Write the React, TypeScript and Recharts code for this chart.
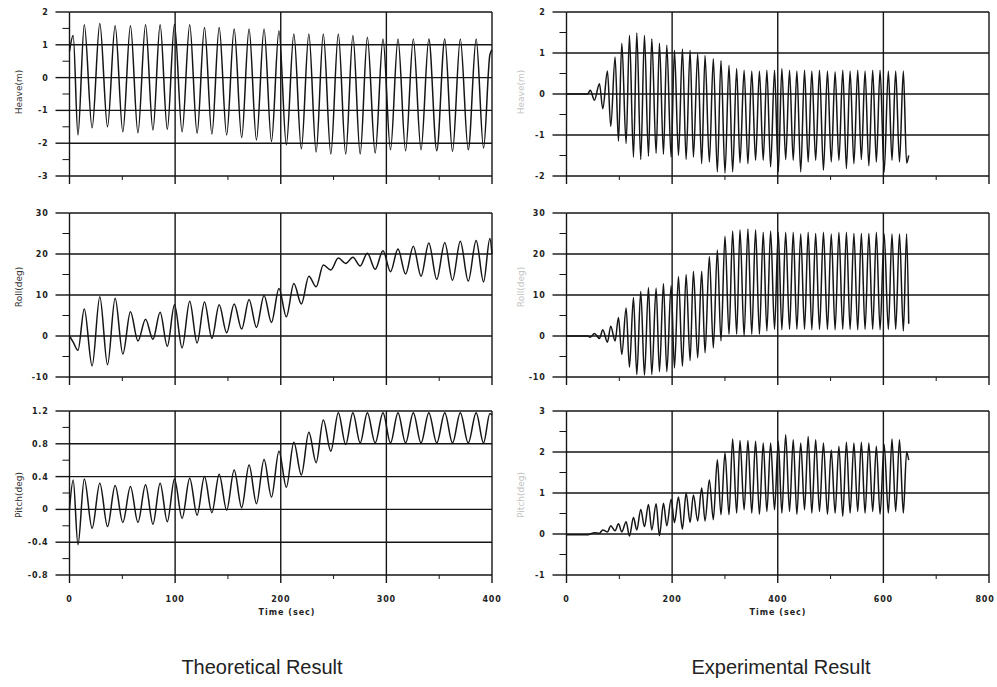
import React from 'react';
import { LineChart, Line, XAxis, YAxis, ReferenceLine } from 'recharts';

// theoretical result: times (s) of the turning points
const thTime = [0, 3.5, 8, 14, 21.4, 28.7, 36, 43.2, 50.5, 57.7, 64.8, 72, 79, 85.8, 92.6, 99.4, 106.6, 113.8, 120.8, 127.8, 134.8, 141.7, 148.8, 155.9, 163, 170, 177, 184.2, 191.2, 198.3, 205.3, 212.4, 219.5, 226.6, 233.5, 240.3, 247.4, 254.5, 261.5, 268.3, 275.2, 282, 289.4, 296.8, 303.9, 311, 318.2, 325.5, 332.8, 340.2, 347.7, 355.3, 362.6, 370, 377.5, 385, 392, 398, 400];
const thHeave = [0.8, 1.28, -1.75,
  1.61, -1.53, 1.65, -1.5, 1.58, -1.65, 1.58, -1.68, 1.61, -1.6, 1.61, -1.58, 1.63, -1.65, 1.61, -1.7, 1.53, -1.72, 1.53, -1.75, 1.48, -1.83, 1.48, -1.9, 1.48, -1.95, 1.43, -2.05, 1.33, -2.17, 1.33, -2.27, 1.33, -2.33, 1.33, -2.33, 1.28, -2.33, 1.23, -2.3, 1.18, -2.2, 1.18, -2.23, 1.18, -2.2, 1.18, -2.23, 1.18, -2.25, 1.18, -2.2, 1.18, -2.15,
  0.7, 0.85];
const thRoll = [0, -1.5, -3.5,
  6.6, -7.3, 9.6, -7.0, 9.2, -4.4, 5.9, -1.2, 4.1, -0.8, 5.8, -2.5, 7.6, -2.9, 8.5, -1.7, 8.3, -0.6, 7.6, 0.8, 7.8, 1.7, 8.9, 2.1, 9.9, 3.3, 11.6, 4.7, 12.8, 7.8, 14.6, 12, 17.3, 16.1, 19, 17.7, 19.2, 17.1, 20.2, 16.3, 20.8, 15.7, 21.2, 15.1, 21.9, 14.6, 22.7, 13.8, 22.8, 13.6, 23.1, 13.4, 23.3, 13.2,
  23.8, 20];
const thPitch = [0, 0.36, -0.43,
  0.37, -0.23, 0.32, -0.21, 0.29, -0.16, 0.28, -0.16, 0.3, -0.18, 0.32, -0.15, 0.37, -0.11, 0.38, -0.07, 0.4, -0.04, 0.43, -0.01, 0.48, 0.02, 0.54, 0.07, 0.61, 0.15, 0.71, 0.27, 0.82, 0.42, 0.94, 0.57, 1.09, 0.71, 1.18, 0.79, 1.18, 0.81, 1.18, 0.81, 1.18, 0.81, 1.18, 0.81, 1.18, 0.81, 1.18, 0.81, 1.18, 0.81, 1.18, 0.81, 1.18, 0.81,
  1.17, 1.15];

const exTime = [0, 40, 45, 52.9, 62.4, 68.7, 77.5, 83.8, 92, 98.4, 104.7, 112.9, 119.2, 126.8, 133.1, 140.6, 147.6, 155.2, 161.5, 169.7, 176, 183.6, 189.9, 198.1, 204.4, 212, 219.5, 226.5, 234, 240.3, 248.4, 256, 262.3, 270.5, 278, 285.6, 292.5, 300.1, 307.7, 314.6, 322.2, 328.5, 336.3, 343.5, 350.8, 358, 365.3, 372.5, 379.4, 386.5, 393.9, 401, 407.8, 415, 422.3, 429.3, 436.2, 443.5, 450.7, 457.6, 464.5, 471.8, 479, 486.5, 494.1, 501.3, 508.6, 515.8, 523.1, 530, 537, 544.2, 551.4, 558.3, 565.3, 572.5, 579.8, 586.7, 593.7, 601.5, 609.4, 616.3, 623.3, 630.5, 637.8, 644, 648];
const exHeave = [0, 0,
  0.09, -0.15, 0.25, -0.36, 0.56, -0.79, 0.9, -1.15, 1.24, -1.21, 1.43, -1.54, 1.49, -1.6, 1.43, -1.52, 1.35, -1.45, 1.24, -1.47, 1.19, -1.54, 1.07, -1.5, 1.1, -1.6, 1.07, -1.54, 0.98, -1.7, 0.94, -1.66, 0.86, -1.9, 0.82, -1.93, 0.7, -1.9, 0.62, -1.68, 0.58, -1.7, 0.56, -1.62, 0.56, -1.62, 0.58, -1.78, 0.58, -1.9, 0.62, -1.6, 0.58, -1.62, 0.56, -1.9, 0.58, -1.66, 0.56, -1.62, 0.58, -1.86, 0.56, -1.66, 0.54, -1.62, 0.58, -1.82, 0.56, -1.7, 0.58, -1.6, 0.56, -1.75, 0.58, -1.66, 0.58, -1.9, 0.56, -1.62, 0.56, -1.66, 0.56, -1.68,
  -1.5];
const exRoll = [0, 0,
  -0.3, 0.6, -0.6, 1.5, -1.5, 2.4, -1.2, 4.5, -4.5, 6.8, -7.6, 9.4, -9.4, 10.9, -9.6, 11.8, -9.4, 11.7, -8.7, 12.8, -8.7, 12.3, -7.8, 14.5, -7.4, 15, -6, 15.8, -5.3, 15.8, -4.1, 19.4, -2.9, 21, -1.2, 24.3, 0.4, 25.6, 0.4, 25.9, 0, 26.1, 0.4, 25.9, 0.4, 25.3, 1.2, 25.6, 1.6, 25.3, 1.5, 25.3, 1.6, 25.3, 1.6, 24.9, 1.6, 25.3, 1.5, 25, 1.6, 25.3, 1.6, 24.9, 1.5, 25.3, 1.6, 25.3, 1.6, 25, 1.5, 25, 1.6, 25, 1.6, 25.3, 1.5, 24.9, 1.6, 24.9, 1.6, 24.9, 1.2, 24.9,
  3];
const exPitch = [-0.02, -0.02,
  0, 0.03, 0.02, 0.1, 0.05, 0.2, 0.08, 0.25, 0.05, 0.3, -0.05, 0.4, 0.1, 0.6, 0.18, 0.72, 0.1, 0.74, -0.04, 0.75, 0.2, 0.85, 0.28, 0.9, 0.12, 1.0, 0.28, 0.95, 0.32, 1.12, 0.32, 1.32, 0.35, 1.81, 0.47, 1.98, 0.47, 2.32, 0.51, 2.28, 0.59, 2.28, 0.51, 2.26, 0.48, 2.22, 0.55, 2.22, 0.59, 2.26, 0.51, 2.42, 0.55, 2.3, 0.48, 2.22, 0.59, 2.38, 0.51, 2.3, 0.55, 2.22, 0.48, 2.05, 0.51, 2.14, 0.43, 2.24, 0.51, 2.22, 0.55, 2.24, 0.51, 2.22, 0.55, 2.14, 0.48, 2.18, 0.51, 2.32, 0.55, 2.3, 0.51, 2.0,
  1.8];

// ticks
const thXMajor = [0, 100, 200, 300, 400];
const thXMinor = [50, 150, 250, 350];
const exXMajor = [0, 200, 400, 600, 800];
const exXMinor = [100, 300, 500, 700];
const heaveThMajor = [-3, -2, -1, 0, 1, 2];
const heaveThMinor = [-2.5, -1.5, -0.5, 0.5, 1.5];
const heaveExMajor = [-2, -1, 0, 1, 2];
const heaveExMinor = [-1.5, -0.5, 0.5, 1.5];
const rollMajor = [-10, 0, 10, 20, 30];
const rollMinor = [-5, 5, 15, 25];
const pitchThMajor = [-0.8, -0.4, 0, 0.4, 0.8, 1.2];
const pitchThMinor = [-0.6, -0.2, 0.2, 0.6, 1];
const pitchExMajor = [-1, 0, 1, 2, 3];
const pitchExMinor = [-0.5, 0.5, 1.5, 2.5];

const INK = '#151515';
const tickFont = { fontSize: 8, fontWeight: 700, fontFamily: 'DejaVu Sans', fill: '#222', letterSpacing: 0.8 };

const yTick = (major: number[]) => (p: any) => {
  const v = p.payload.value;
  const isMajor = major.includes(v);
  return (
    <g>
      <line x1={p.x - (isMajor ? 14 : 7)} x2={p.x} y1={p.y} y2={p.y} stroke={INK} strokeWidth={isMajor ? 1.4 : 1} />
      {isMajor && (
        <text x={p.x - 21} y={p.y + 3} textAnchor="end" {...tickFont}>{v}</text>
      )}
    </g>
  );
};

const xTick = (major: number[], labels: boolean, lastShift: number) => (p: any) => {
  const v = p.payload.value;
  const isMajor = major.includes(v);
  const isLast = v === major[major.length - 1];
  return (
    <g>
      <line x1={p.x} x2={p.x} y1={p.y} y2={p.y + (isMajor ? 8 : 4)} stroke={INK} strokeWidth={isMajor ? 1.4 : 1} />
      {labels && isMajor && (
        <text x={p.x - (isLast ? lastShift : 0)} y={p.y + 27} textAnchor="middle" {...tickFont}>{v}</text>
      )}
    </g>
  );
};

interface PanelProps {
  left: number;
  top: number;
  time: number[];
  values: number[];
  xMajor: number[];
  xMinor: number[];
  yMajor: number[];
  yMinor: number[];
  showX: boolean;
  lastShift?: number;
}

function Panel({ left, top, time, values, xMajor, xMinor, yMajor, yMinor, showX, lastShift = 0 }: PanelProps) {
  const data = time.map((t, i) => ({ t, v: values[i] }));
  const xTicks = [...xMajor, ...xMinor].sort((a, b) => a - b);
  const yTicks = [...yMajor, ...yMinor].sort((a, b) => a - b);
  return (
    <div style={{ position: 'absolute', left, top }}>
      <LineChart width={502} height={224} data={data} margin={{ top: 10, right: 10, bottom: 0, left: 0 }}>
        <XAxis
          dataKey="t"
          type="number"
          domain={[xMajor[0], xMajor[xMajor.length - 1]]}
          ticks={xTicks}
          interval={0}
          tickSize={0}
          tickMargin={0}
          tickLine={false}
          axisLine={false}
          height={50}
          tick={xTick(xMajor, showX, lastShift)}
        />
        <YAxis
          type="number"
          domain={[yMajor[0], yMajor[yMajor.length - 1]]}
          ticks={yTicks}
          interval={0}
          tickSize={0}
          tickMargin={0}
          tickLine={false}
          axisLine={false}
          width={69.5}
          tick={yTick(yMajor)}
        />
        {yMajor.map((v) => (
          <ReferenceLine key={'h' + v} y={v} stroke={INK} strokeWidth={1.4} />
        ))}
        {xMajor.map((v) => (
          <ReferenceLine key={'v' + v} x={v} stroke={INK} strokeWidth={1.4} />
        ))}
        <Line type="monotone" dataKey="v" stroke={INK} strokeWidth={1.5} dot={false} isAnimationActive={false} />
      </LineChart>
    </div>
  );
}

const yTitle = (text: string, x: number, y: number, color: string) => (
  <div
    style={{
      position: 'absolute',
      left: x,
      top: y,
      transform: 'translate(-50%, -50%) rotate(-90deg)',
      fontFamily: 'DejaVu Sans',
      fontSize: 9,
      color,
      whiteSpace: 'nowrap',
    }}
  >
    {text}
  </div>
);

const timeLabel = (x: number) => (
  <div
    style={{
      position: 'absolute',
      left: x,
      top: 612,
      transform: 'translate(-50%, -50%)',
      fontFamily: 'DejaVu Sans',
      fontSize: 8,
      fontWeight: 700,
      letterSpacing: 1,
      color: '#222',
      whiteSpace: 'nowrap',
    }}
  >
    Time (sec)
  </div>
);

const title = (text: string, x: number) => (
  <div
    style={{
      position: 'absolute',
      left: x,
      top: 667,
      transform: 'translate(-50%, -50%)',
      fontFamily: 'Liberation Sans',
      fontSize: 20,
      color: '#222',
      whiteSpace: 'nowrap',
    }}
  >
    {text}
  </div>
);

export default function App() {
  return (
    <div style={{ position: 'absolute', left: 0, top: 0, width: 997, height: 687, overflow: 'hidden', background: '#fff' }}>
      <Panel left={0} top={2} time={thTime} values={thHeave} xMajor={thXMajor} xMinor={thXMinor} yMajor={heaveThMajor} yMinor={heaveThMinor} showX={false} />
      <Panel left={0} top={202.5} time={thTime} values={thRoll} xMajor={thXMajor} xMinor={thXMinor} yMajor={rollMajor} yMinor={rollMinor} showX={false} />
      <Panel left={0} top={400.5} time={thTime} values={thPitch} xMajor={thXMajor} xMinor={thXMinor} yMajor={pitchThMajor} yMinor={pitchThMinor} showX={true} />

      <Panel left={497} top={2} time={exTime} values={exHeave} xMajor={exXMajor} xMinor={exXMinor} yMajor={heaveExMajor} yMinor={heaveExMinor} showX={false} />
      <Panel left={497} top={202.5} time={exTime} values={exRoll} xMajor={exXMajor} xMinor={exXMinor} yMajor={rollMajor} yMinor={rollMinor} showX={false} />
      <Panel left={497} top={400.5} time={exTime} values={exPitch} xMajor={exXMajor} xMinor={exXMinor} yMajor={pitchExMajor} yMinor={pitchExMinor} showX={true} lastShift={4} />

      {yTitle('Heave(m)', 19, 92, '#333')}
      {yTitle('Roll(deg)', 19, 287, '#333')}
      {yTitle('Pitch(deg)', 19, 495, '#333')}
      {yTitle('Heave(m)', 521, 92, '#c4c4c4')}
      {yTitle('Roll(deg)', 521, 287, '#c4c4c4')}
      {yTitle('Pitch(deg)', 521, 495, '#c4c4c4')}

      {timeLabel(287)}
      {timeLabel(778)}

      {title('Theoretical Result', 262)}
      {title('Experimental Result', 781)}
    </div>
  );
}
